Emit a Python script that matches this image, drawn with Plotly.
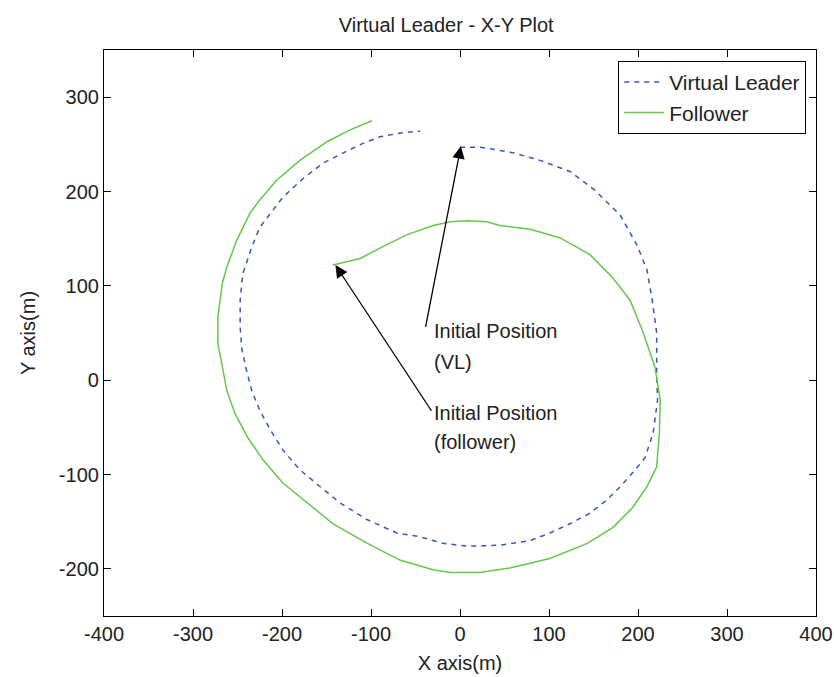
import plotly.graph_objects as go

# Virtual leader path (starts at its initial position, clockwise)
leader_x = [0, 12, 22, 36, 47, 60, 90, 124, 152, 180, 199, 210, 216, 221, 221, 222,
            217, 208, 197, 180, 165, 146, 124, 101, 79, 45, 8, -19, -45, -71, -104,
            -135, -157, -180, -199, -213, -225, -234, -239, -245, -247, -247, -244,
            -234, -225, -213, -199, -176, -154, -131, -109, -90, -67, -45]
leader_y = [247, 247, 247, 245, 243, 241, 233, 221, 201, 175, 143, 117, 85, 50, 3, -21,
            -56, -82, -95, -113, -127, -141, -152, -162, -170, -175, -176, -173, -166,
            -162, -148, -130, -113, -95, -74, -53, -32, -11, 7, 32, 56, 85, 113,
            141, 162, 177, 194, 214, 230, 241, 251, 258, 262, 264]

# Follower path
follower_x = [-143, -131, -112, -90, -60, -30, -11, 8, 30, 45, 79, 112, 146, 171, 191,
              206, 219, 225, 224, 221, 210, 194, 172, 143, 101, 56, 22, -11, -30, -67,
              -104, -143, -172, -199, -221, -239, -253, -262, -267, -272, -272, -267,
              -262, -251, -236, -225, -206, -180, -149, -124, -99]
follower_y = [122, 125, 129, 140, 154, 164, 168, 169, 168, 164, 160, 151, 133, 109, 85,
              50, 14, -21, -56, -92, -113, -135, -156, -173, -189, -199, -204, -204,
              -201, -191, -173, -152, -130, -109, -85, -60, -35, -11, 14, 39, 67, 103,
              120, 148, 177, 191, 212, 233, 253, 265, 275]

x_ticks = [-400, -300, -200, -100, 0, 100, 200, 300, 400]
y_ticks = [-200, -100, 0, 100, 200, 300]
x_ticktext = [str(v) for v in x_ticks]
y_ticktext = [str(v) for v in y_ticks]

FONT = "Liberation Sans, Arial, sans-serif"
TXT = "#222"
FS = 20

fig = go.Figure()
fig.add_trace(go.Scatter(x=leader_x, y=leader_y, mode="lines", name="Virtual Leader",
                         line=dict(color="#3a56b8", width=1.5, dash="5px,5px")))
fig.add_trace(go.Scatter(x=follower_x, y=follower_y, mode="lines", name="Follower",
                         line=dict(color="#66c84a", width=1.5)))

# arrows: text tail -> initial position
arrows = [((1, 248), (-39, 55)), ((-140, 122), (-31, -34))]
for (hx, hy), (tx, ty) in arrows:
    fig.add_annotation(x=hx, y=hy, ax=tx, ay=ty, xref="x", yref="y", axref="x", ayref="y",
                       text="", showarrow=True, arrowhead=2, arrowsize=1.9,
                       arrowwidth=1.3, arrowcolor="black", standoff=0, startstandoff=0)

labels = [("Initial Position", 52), ("(VL)", 19),
          ("Initial Position", -35), ("(follower)", -66)]
for txt, yy in labels:
    fig.add_annotation(x=-32, y=yy, text=txt, showarrow=False, xanchor="left",
                       yanchor="middle", font=dict(family=FONT, size=FS, color=TXT))

axis_common = dict(showline=True, linecolor="black", linewidth=1.2, mirror="ticks",
                   ticks="inside", ticklen=7, tickcolor="black", showgrid=False,
                   zeroline=False, automargin=False,
                   tickfont=dict(family=FONT, size=FS, color=TXT))

fig.update_layout(
    width=834, height=677,
    margin=dict(l=104, r=18, t=50, b=61),
    paper_bgcolor="white", plot_bgcolor="white",
    title=dict(text="Virtual Leader - X-Y Plot", x=0.535, xanchor="center",
               y=0.963, yanchor="middle", font=dict(family=FONT, size=FS, color=TXT)),
    xaxis=dict(range=[-400, 400], tickvals=x_ticks, ticktext=x_ticktext,
               title=dict(text="X axis(m)", standoff=11,
                          font=dict(family=FONT, size=FS, color=TXT)),
               **axis_common),
    yaxis=dict(range=[-250, 350], tickvals=y_ticks, ticktext=y_ticktext,
               title=dict(text="Y axis(m)", standoff=17,
                          font=dict(family=FONT, size=FS, color=TXT)),
               **axis_common),
    legend=dict(x=0.986, y=0.981, xanchor="right", yanchor="top",
                bordercolor="black", borderwidth=1.2, bgcolor="white",
                font=dict(family=FONT, size=21, color=TXT),
                tracegroupgap=2, itemwidth=40),
    showlegend=True,
)

# drop the browser's default body margin so the figure sits at the page corner
fig.write_html("out.html", config={"displayModeBar": False},
               post_script="document.body.style.margin='0';")
